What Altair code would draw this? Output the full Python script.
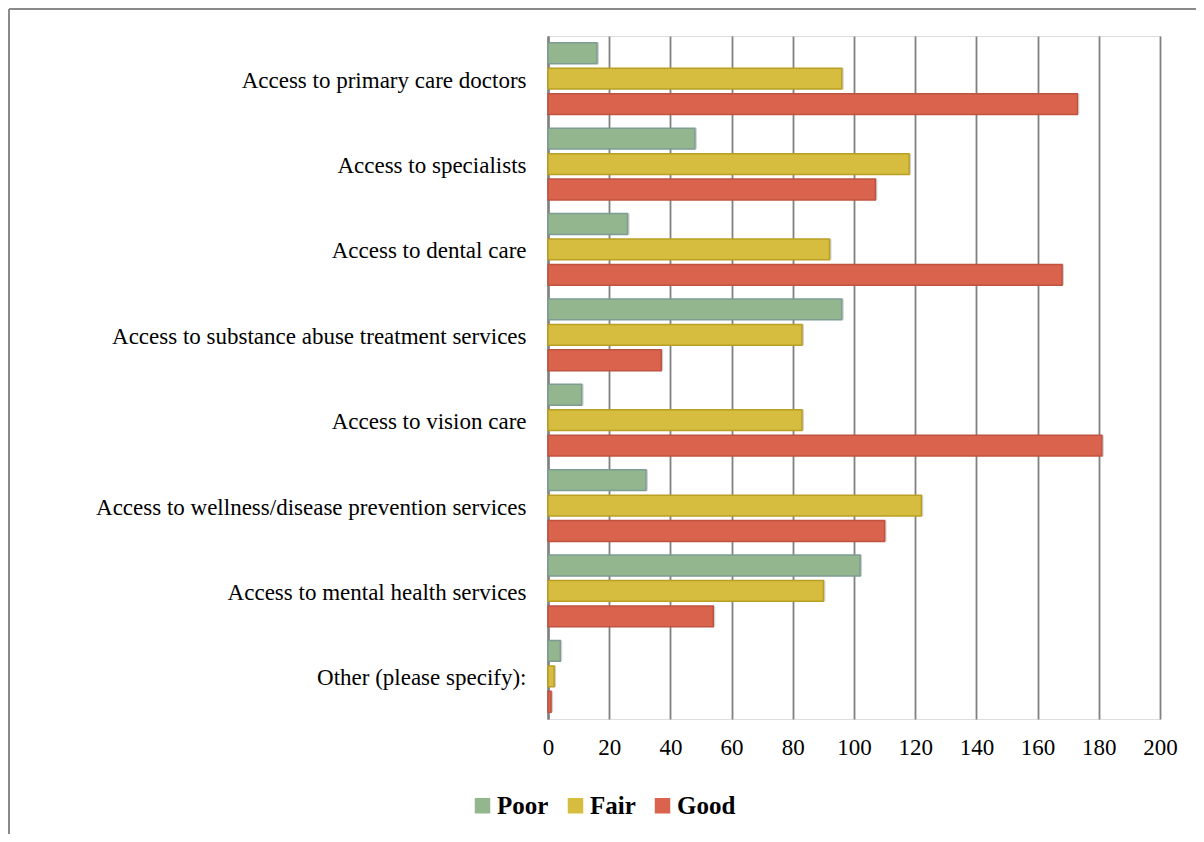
import altair as alt
import pandas as pd

categories = [
    "Access to primary care doctors",
    "Access to specialists",
    "Access to dental care",
    "Access to substance abuse treatment services",
    "Access to vision care",
    "Access to wellness/disease prevention services",
    "Access to mental health services",
    "Other (please specify):",
]
series = ["Poor", "Fair", "Good"]
poor = [16, 48, 26, 96, 11, 32, 102, 4]
fair = [96, 118, 92, 83, 83, 122, 90, 2]
good = [173, 107, 168, 37, 181, 110, 54, 1]
x_ticks = [0, 20, 40, 60, 80, 100, 120, 140, 160, 180, 200]

fill_colors = ["#93b68f", "#d6bd3f", "#d9634c"]
stroke_colors = ["#7d9c94", "#b9a023", "#c0533f"]

rows = []
for i, c in enumerate(categories):
    for s, vals in zip(series, [poor, fair, good]):
        rows.append({"Question": c, "Rating": s, "Count": vals[i]})
df = pd.DataFrame(rows)

W, H = 612, 683
FONT = "Liberation Serif"

y_enc = alt.Y("Question:N", sort=categories,
              scale=alt.Scale(paddingInner=0.16, paddingOuter=0.08),
              axis=alt.Axis(title=None, domain=True, domainColor="#808080", domainWidth=2.5,
                            ticks=False, labelPadding=22, labelFont=FONT, labelFontSize=23,
                            labelColor="#000000", labelLimit=700, labelOffset=2))
yoff_enc = alt.YOffset("Rating:N", sort=series,
                       scale=alt.Scale(paddingInner=0.18, paddingOuter=0.0))
x_enc = alt.X("Count:Q", scale=alt.Scale(domain=[0, 200], nice=False),
              axis=alt.Axis(title=None, values=x_ticks, domain=False, ticks=False,
                            grid=True, gridColor="#808080", gridWidth=1.8,
                            labelFont=FONT, labelFontSize=23, labelColor="#000000",
                            labelPadding=17, labelFlush=False, labelOverlap=False))

base = alt.Chart(df)

shadow = base.mark_bar(color="#000000", opacity=0.18, xOffset=2, yOffset=3).encode(
    x=x_enc, y=y_enc, yOffset=yoff_enc
)

bars = base.mark_bar(strokeWidth=1.5).encode(
    x=x_enc, y=y_enc, yOffset=yoff_enc,
    fill=alt.Fill("Rating:N", sort=series,
                  scale=alt.Scale(domain=series, range=fill_colors),
                  legend=alt.Legend(title=None, orient="none", direction="horizontal",
                                    legendX=-78, legendY=757, symbolType="square",
                                    symbolSize=240, symbolStrokeWidth=0,
                                    labelFont=FONT, labelFontSize=25, labelFontWeight="bold",
                                    labelColor="#000000", columnPadding=14, labelOffset=2)),
    stroke=alt.Stroke("Rating:N", scale=alt.Scale(domain=series, range=stroke_colors),
                      legend=None),
)

one = alt.Chart(pd.DataFrame({"a": [0]}))
frame_left = one.mark_rule(color="#8a8a8a", strokeWidth=2).encode(
    x=alt.value(-539), y=alt.value(-27), y2=alt.value(H + 200))
frame_top = one.mark_rule(color="#8a8a8a", strokeWidth=2).encode(
    x=alt.value(-539), x2=alt.value(W + 200), y=alt.value(-27))

chart = alt.layer(shadow, bars, frame_left, frame_top).properties(
    width=W, height=H,
    padding={"left": 540, "top": 28, "right": 36, "bottom": 115},
    autosize=alt.AutoSizeParams(type="none"),
).configure_view(stroke=None).configure(background="#ffffff")

chart.save("out.html", embed_options={"renderer": "svg", "actions": False})
